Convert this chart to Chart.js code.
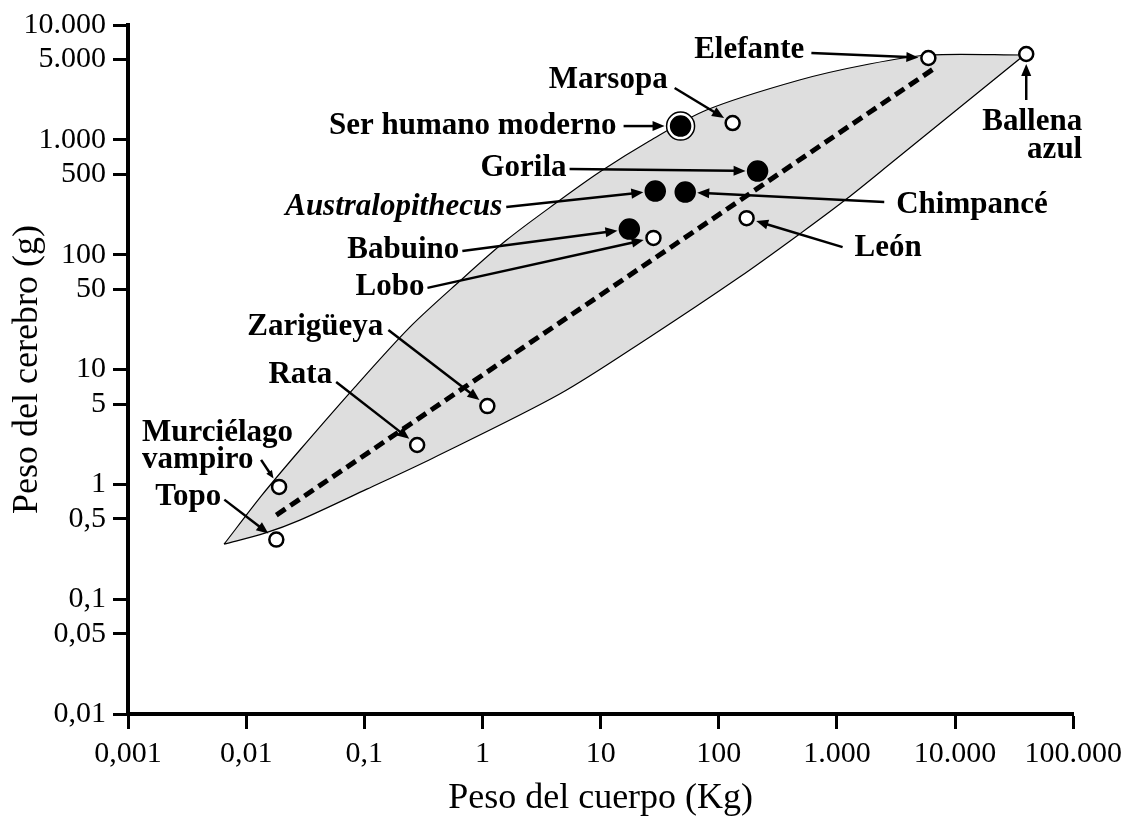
<!DOCTYPE html>
<html>
<head>
<meta charset="utf-8">
<title>Peso del cerebro y peso del cuerpo</title>
<script src="https://cdn.jsdelivr.net/npm/chart.js@4.4.0/dist/chart.umd.min.js"></script>
<style>
  html, body { margin: 0; padding: 0; background: #fff; }
  #wrap { width: 1129px; height: 822px; }
</style>
</head>
<body>
<div id="wrap"><canvas id="brainChart"></canvas></div>
<script>
// species, body weight (kg) and brain weight (g)
const species = ['Topo', 'Murciélago vampiro', 'Rata', 'Zarigüeya', 'Lobo', 'Babuino', 'Australopithecus',
                 'Chimpancé', 'Gorila', 'León', 'Ser humano moderno', 'Marsopa', 'Elefante', 'Ballena azul'];
const bodyKg = [0.018, 0.019, 0.28, 1.1, 28, 17.5, 29, 52, 213, 172, 47.5, 131, 5940, 40000];
const brainG = [0.33, 0.95, 2.2, 4.8, 140, 167, 358, 351, 535, 208, 1318, 1400, 5160, 5590];
// hominids / primates are the filled dots
const filled = [false, false, false, false, false, true, true, true, true, false, true, false, false, false];

// dashed trend line, end points
const trendKg = [0.018, 6940];
const trendG = [0.54, 4310];

// grey envelope: upper edge from the left tip to the whale, then the lower edge back
const envelopeKg = [0.0065, 0.0136, 0.0285, 0.0832, 0.243, 0.643, 1.6, 4.08, 9.81, 25.9, 78.7, 482, 1884, 5940,
                    38550, 38550, 2946, 1203, 482, 150, 25.9, 4.5, 0.379, 0.105, 0.0285, 0.0144, 0.0065];
const envelopeG = [0.301, 0.805, 1.99, 7.03, 23.4, 58.9, 134, 276, 524, 976, 1818, 3320, 4575, 5480,
                   5480, 5480, 641, 305, 151, 63.8, 19.1, 6.11, 1.69, 0.908, 0.488, 0.376, 0.301];

const xTicks = [0.001, 0.01, 0.1, 1, 10, 100, 1000, 10000, 100000];
const xTickLabels = ['0,001', '0,01', '0,1', '1', '10', '100', '1.000', '10.000', '100.000'];
const yTicks = [0.01, 0.05, 0.1, 0.5, 1, 5, 10, 50, 100, 500, 1000, 5000, 10000];
const yTickLabels = ['0,01', '0,05', '0,1', '0,5', '1', '5', '10', '50', '100', '500', '1.000', '5.000', '10.000'];

// label placement, in pixels relative to the marked point
const notes = [
  { name: 'Topo', lines: ['Topo'], align: 'right', dx: -55, dy: -43, from: [-52, -40] },
  { name: 'Murciélago vampiro', lines: ['Murciélago', 'vampiro'], align: 'left', dx: -137, dy: -54, lh: 27, from: [-18, -27], head: 8 },
  { name: 'Rata', lines: ['Rata'], align: 'right', dx: -85, dy: -70, from: [-81, -63] },
  { name: 'Zarigüeya', lines: ['Zarigüeya'], align: 'right', dx: -104, dy: -79, from: [-99, -76] },
  { name: 'Lobo', lines: ['Lobo'], align: 'right', dx: -229, dy: 49, from: [-226, 50] },
  { name: 'Babuino', lines: ['Babuino'], align: 'right', dx: -170, dy: 21, from: [-167, 22] },
  { name: 'Australopithecus', lines: ['Australopithecus'], align: 'right', dx: -153, dy: 16, from: [-149, 16], italic: true },
  { name: 'Chimpancé', lines: ['Chimpancé'], align: 'left', dx: 211, dy: 13, from: [199, 10] },
  { name: 'Gorila', lines: ['Gorila'], align: 'right', dx: -191, dy: -3, from: [-188, -2] },
  { name: 'León', lines: ['León'], align: 'left', dx: 108, dy: 30, from: [96, 29] },
  { name: 'Ser humano moderno', lines: ['Ser humano moderno'], align: 'right', dx: -64, dy: 0, from: [-57, 0] },
  { name: 'Marsopa', lines: ['Marsopa'], align: 'right', dx: -65, dy: -43, from: [-58, -35] },
  { name: 'Elefante', lines: ['Elefante'], align: 'right', dx: -124, dy: -8, from: [-117, -5] },
  { name: 'Ballena azul', lines: ['Ballena', 'azul'], align: 'right', dx: 56, dy: 68, lh: 28, from: [0, 46] }
];

function drawArrow(ctx, x0, y0, x1, y1, gap, head) {
  const ang = Math.atan2(y1 - y0, x1 - x0);
  const cos = Math.cos(ang), sin = Math.sin(ang);
  const ex = x1 - cos * gap, ey = y1 - sin * gap;
  const half = head * 0.42;
  const bx = ex - cos * head, by = ey - sin * head;
  ctx.lineWidth = 2.5;
  ctx.beginPath();
  ctx.moveTo(x0, y0);
  ctx.lineTo(bx + cos, by + sin);
  ctx.stroke();
  ctx.beginPath();
  ctx.moveTo(ex, ey);
  ctx.lineTo(bx + sin * half, by - cos * half);
  ctx.lineTo(bx - sin * half, by + cos * half);
  ctx.closePath();
  ctx.fill();
}

const notesPlugin = {
  id: 'notes',
  afterDatasetsDraw(chart) {
    const { ctx } = chart;
    const xs = chart.scales.x, ys = chart.scales.y;
    ctx.save();
    ctx.fillStyle = '#000';
    ctx.strokeStyle = '#000';
    notes.forEach(n => {
      const i = species.indexOf(n.name);
      const px = xs.getPixelForValue(bodyKg[i]);
      const py = ys.getPixelForValue(brainG[i]);
      let gap = filled[i] ? 12 : 10;
      if (n.name === 'Ser humano moderno') gap = 16;
      drawArrow(ctx, px + n.from[0], py + n.from[1], px, py, gap, n.head || 12);
      ctx.font = (n.italic ? 'italic ' : '') + 'bold 31px "Liberation Serif", serif';
      ctx.textAlign = n.align;
      ctx.textBaseline = 'middle';
      n.lines.forEach((t, k) => ctx.fillText(t, px + n.dx, py + n.dy + k * (n.lh || 0)));
    });
    ctx.restore();
  }
};

const speciesPoints = species.map((s, i) => ({ x: bodyKg[i], y: brainG[i] }));
const humanRing = speciesPoints.filter((p, i) => species[i] === 'Ser humano moderno');
const trendPoints = trendKg.map((v, i) => ({ x: v, y: trendG[i] }));
const envelopePoints = envelopeKg.map((v, i) => ({ x: v, y: envelopeG[i] }));

const serif = "'Liberation Serif', serif";

new Chart(document.getElementById('brainChart'), {
  type: 'scatter',
  data: {
    datasets: [
      {
        label: 'Especies',
        data: speciesPoints,
        order: 0,
        pointRadius: filled.map(f => f ? 9.5 : 7),
        pointBackgroundColor: filled.map(f => f ? '#000' : '#fff'),
        pointBorderColor: '#000',
        pointBorderWidth: 2.5
      },
      {
        label: 'anillo',
        data: humanRing,
        order: 1,
        pointRadius: 14,
        pointBackgroundColor: '#fff',
        pointBorderColor: '#000',
        pointBorderWidth: 1.5
      },
      {
        type: 'line',
        label: 'tendencia',
        data: trendPoints,
        order: 2,
        borderColor: '#000',
        borderWidth: 5,
        borderDash: [11, 6],
        pointRadius: 0,
        fill: false
      },
      {
        type: 'line',
        label: 'envolvente',
        data: envelopePoints,
        order: 3,
        borderColor: '#000',
        borderWidth: 1.2,
        backgroundColor: '#dedede',
        fill: 'shape',
        tension: 0.3,
        pointRadius: 0
      }
    ]
  },
  options: {
    responsive: true,
    maintainAspectRatio: false,
    animation: false,
    events: [],
    layout: { padding: { top: 25, right: 55, left: 0, bottom: 0 } },
    plugins: {
      legend: { display: false },
      tooltip: { enabled: false }
    },
    scales: {
      x: {
        type: 'logarithmic',
        position: 'bottom',
        min: 0.001,
        max: 100000,
        afterBuildTicks: s => { s.ticks = xTicks.map(v => ({ value: v })); },
        afterFit: s => { s.height = 108; },
        ticks: {
          callback: v => xTickLabels[xTicks.indexOf(v)],
          font: { family: serif, size: 30 },
          color: '#000',
          padding: 7,
          maxRotation: 0,
          autoSkip: false
        },
        grid: { drawOnChartArea: false, tickLength: 15, tickWidth: 3, tickColor: '#000', color: '#000' },
        border: { display: true, color: '#000', width: 4 },
        title: {
          display: true,
          text: 'Peso del cuerpo (Kg)',
          font: { family: serif, size: 36 },
          color: '#000',
          padding: { top: 0, bottom: 2 }
        }
      },
      y: {
        type: 'logarithmic',
        min: 0.01,
        max: 10000,
        afterBuildTicks: s => { s.ticks = yTicks.map(v => ({ value: v })); },
        afterFit: s => { s.width = 128; },
        ticks: {
          callback: v => yTickLabels[yTicks.indexOf(v)],
          font: { family: serif, size: 30 },
          color: '#000',
          padding: 7,
          autoSkip: false
        },
        grid: { drawOnChartArea: false, tickLength: 15, tickWidth: 3, tickColor: '#000', color: '#000' },
        border: { display: true, color: '#000', width: 4 },
        title: {
          display: true,
          text: 'Peso del cerebro (g)',
          font: { family: serif, size: 36 },
          color: '#000',
          padding: { top: 6, bottom: 0 }
        }
      }
    }
  },
  plugins: [notesPlugin]
});
</script>
</body>
</html>
